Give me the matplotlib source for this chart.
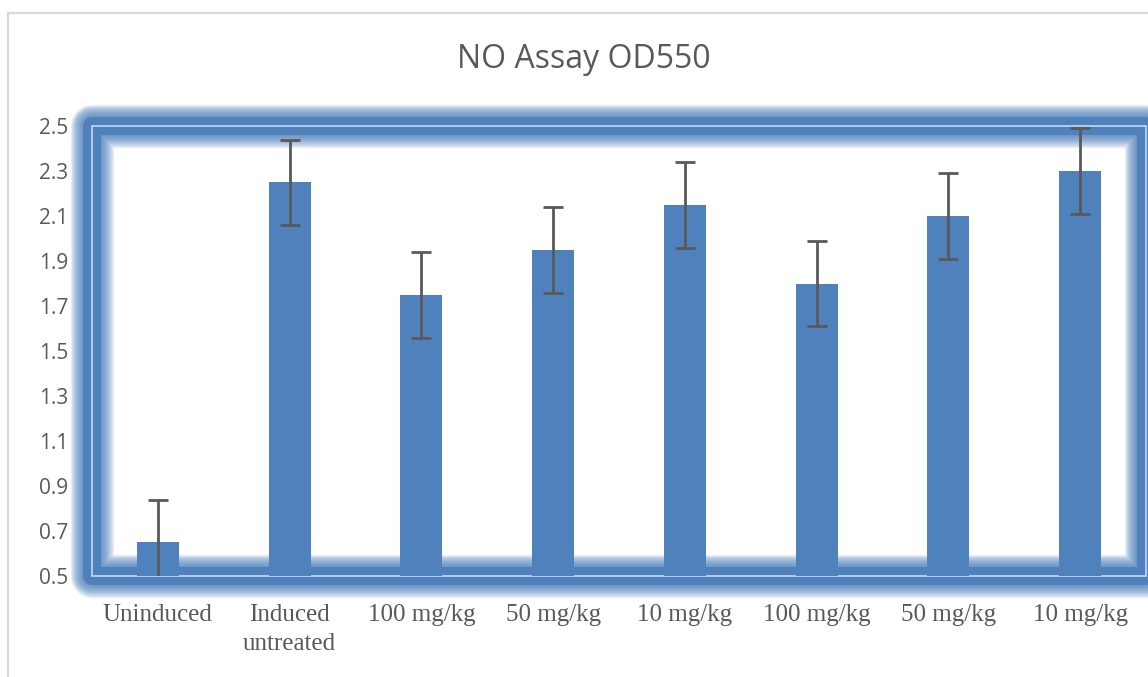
import numpy as np
import matplotlib
matplotlib.use("Agg")
import matplotlib.pyplot as plt
from matplotlib.patches import Rectangle
from matplotlib.lines import Line2D

# ----------------------------------
# Data
# ----------------------------------

groups = ["Uninduced", "Induced\nuntreated", "100 mg/kg", "50 mg/kg",
          "10 mg/kg", "100 mg/kg", "50 mg/kg", "10 mg/kg"]
od550 = [0.65, 2.25, 1.75, 1.95, 2.15, 1.80, 2.10, 2.30]
od550_err = [0.19, 0.19, 0.19, 0.19, 0.19, 0.19, 0.19, 0.19]
y_ticks = [0.5, 0.7, 0.9, 1.1, 1.3, 1.5, 1.7, 1.9, 2.1, 2.3, 2.5]

BLUE = "#4f81bd"
GREY = "#595959"

fig = plt.figure(figsize=(11.48, 6.77), dpi=100)
ax = fig.add_axes([92 / 1148, 1 - 576 / 677, 1054 / 1148, 450 / 677])

x = np.arange(len(groups))
ax.bar(x, od550, width=0.32, bottom=0, color=BLUE, zorder=3)
ax.errorbar(x, od550, yerr=od550_err, fmt="none", ecolor=GREY,
            elinewidth=2, capsize=7, capthick=2, zorder=4)

ax.set_xlim(-0.5, len(groups) - 0.5)
ax.set_ylim(0.5, 2.5)
ax.set_yticks(y_ticks)
ax.set_yticklabels([f"{v:.1f}" for v in y_ticks],
                   fontfamily="Open Sans", fontsize=15, color=GREY)
ax.set_xticks(x)
ax.set_xticklabels(groups, fontfamily="Liberation Serif", fontsize=18,
                   color=GREY, linespacing=1.4)
ax.tick_params(axis="y", length=0, pad=17)
ax.tick_params(axis="x", length=0, pad=20)
for s in ax.spines.values():
    s.set_visible(False)

# ----------------------------------
# Glowing frame around plot area
# ----------------------------------

for k in range(14):
    ax.add_patch(Rectangle((0, 0), 1, 1, transform=ax.transAxes,
                           fill=False, edgecolor=BLUE, alpha=0.11,
                           linewidth=13 + k * 1.4, clip_on=False,
                           joinstyle="round", zorder=1))
ax.add_patch(Rectangle((0, 0), 1, 1, transform=ax.transAxes, fill=False,
                       edgecolor=BLUE, linewidth=13, clip_on=False,
                       joinstyle="round", zorder=1))
ax.add_patch(Rectangle((0, 0), 1, 1, transform=ax.transAxes, fill=False,
                       edgecolor="#c9d7ea", linewidth=1.2, clip_on=False,
                       zorder=2))

# ----------------------------------
# Title and chart border
# ----------------------------------

fig.text(584 / 1148, 1 - 60 / 677, "NO Assay OD550", ha="center",
         va="center", fontfamily="Open Sans", fontsize=23, color=GREY)

fig.add_artist(Line2D([7.5 / 1148, 7.5 / 1148], [0, 1 - 13 / 677],
                      transform=fig.transFigure, color="#d9d9d9", lw=1.6))
fig.add_artist(Line2D([7.5 / 1148, 1], [1 - 13 / 677, 1 - 13 / 677],
                      transform=fig.transFigure, color="#d9d9d9", lw=1.6))

fig.savefig("out.png", dpi=100)
